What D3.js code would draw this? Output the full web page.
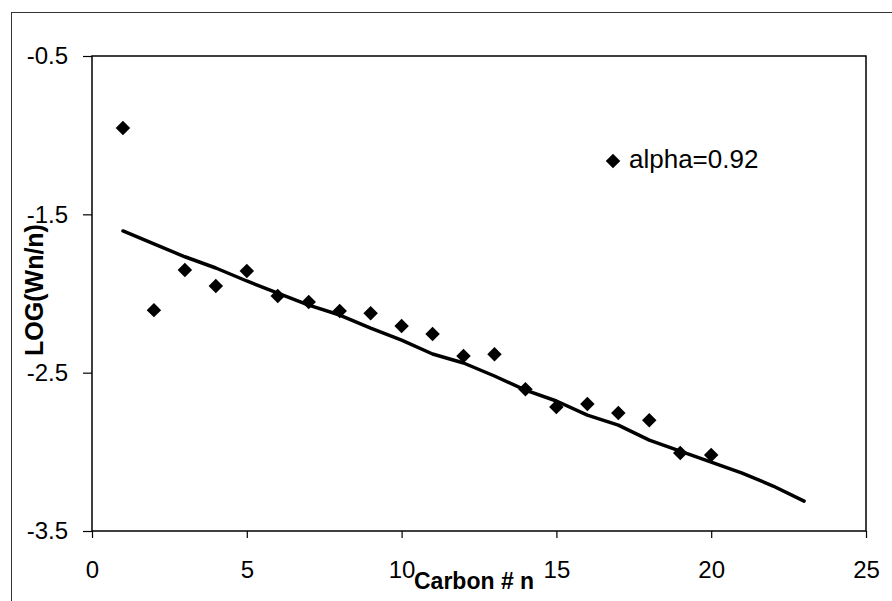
<!DOCTYPE html>
<html>
<head>
<meta charset="utf-8">
<script src="https://cdn.jsdelivr.net/npm/d3@7"></script>
<style>
  body { margin: 0; background: #fff; }
  svg { display: block; }
  .tick text { font-family: "Liberation Sans", Arial, sans-serif; font-size: 24px; fill: #000; }
  .tick line { stroke: #000; stroke-width: 1.2; }
  .ttl { font-family: "Liberation Sans", Arial, sans-serif; font-weight: bold; fill: #000; }
</style>
</head>
<body>
<div id="chart"></div>
<script>
// carbon number n and measured LOG(Wn/n)
carbonN = [1, 2, 3, 4, 5, 6, 7, 8, 9, 10, 11, 12, 13, 14, 15, 16, 17, 18, 19, 20];
logWn = [-0.955, -2.105, -1.852, -1.953, -1.858, -2.016, -2.054, -2.11, -2.124, -2.206,
         -2.256, -2.395, -2.383, -2.604, -2.717, -2.698, -2.755, -2.80, -3.008, -3.02];

// model curve for alpha=0.92
modelN = [1, 2, 3, 4, 5, 6, 7, 8, 9, 10, 11, 12, 13, 14, 15, 16, 17, 18, 19, 20, 21, 22, 23];
modelLog = [-1.605, -1.687, -1.768, -1.839, -1.921, -1.997, -2.073, -2.136, -2.218, -2.294,
            -2.382, -2.439, -2.521, -2.610, -2.679, -2.768, -2.831, -2.926, -2.995, -3.065,
            -3.134, -3.216, -3.311];

xTicks = [0, 5, 10, 15, 20, 25];
yTicks = [-0.5, -1.5, -2.5, -3.5];
legendLabel = "alpha=0.92";

let W = 892, H = 601;
let plot = {left: 92, top: 56, right: 866, bottom: 531};

let svg = d3.select("#chart").append("svg")
    .attr("width", W)
    .attr("height", H);

// outer chart border (right/bottom fall outside the picture)
svg.append("rect")
    .attr("x", 11.5).attr("y", 12.5)
    .attr("width", 1000).attr("height", 1000)
    .attr("fill", "none")
    .attr("stroke", "#333")
    .attr("stroke-width", 1);

let x = d3.scaleLinear().domain([0, 25]).range([plot.left, plot.right]);
let y = d3.scaleLinear().domain([-3.5, -0.5]).range([plot.bottom, plot.top]);

let xAxis = d3.axisBottom(x)
    .tickValues(xTicks)
    .tickSize(7)
    .tickSizeOuter(0)
    .tickPadding(23)
    .tickFormat(d3.format("d"));

let yAxis = d3.axisLeft(y)
    .tickValues(yTicks)
    .tickSize(9)
    .tickSizeOuter(0)
    .tickPadding(15)
    .tickFormat(function(d){ return d.toFixed(1); });

svg.append("g")
    .attr("transform", "translate(0," + plot.bottom + ")")
    .call(xAxis)
    .call(g => g.select(".domain").remove());

svg.append("g")
    .attr("transform", "translate(" + plot.left + ",0)")
    .call(yAxis)
    .call(g => g.select(".domain").remove());

// plot frame
svg.append("rect")
    .attr("x", plot.left).attr("y", plot.top)
    .attr("width", plot.right - plot.left)
    .attr("height", plot.bottom - plot.top)
    .attr("fill", "none")
    .attr("stroke", "#000")
    .attr("stroke-width", 1.5);

// model line
let line = d3.line()
    .x(function(d, i){ return x(modelN[i]); })
    .y(function(d){ return y(d); });

svg.append("path")
    .datum(modelLog)
    .attr("d", line)
    .attr("fill", "none")
    .attr("stroke", "#000")
    .attr("stroke-width", 3.5)
    .attr("stroke-linejoin", "round")
    .attr("stroke-linecap", "round");

// data markers
let diamond = d3.symbol().type(d3.symbolSquare).size(105);

svg.selectAll(".pt")
    .data(carbonN)
    .enter().append("path")
    .attr("class", "pt")
    .attr("d", diamond)
    .attr("transform", function(d, i){
        return "translate(" + x(d) + "," + y(logWn[i]) + ") rotate(45)";
    })
    .attr("fill", "#000");

// legend
svg.append("path")
    .attr("d", diamond)
    .attr("transform", "translate(613,161) rotate(45)")
    .attr("fill", "#000");

svg.append("text")
    .attr("x", 629).attr("y", 168)
    .style("font-family", "'Liberation Sans', Arial, sans-serif")
    .style("font-size", "26px")
    .text(legendLabel);

// axis titles
svg.append("text")
    .attr("class", "ttl")
    .attr("x", 414).attr("y", 589)
    .style("font-size", "23px")
    .text("Carbon # n");

svg.append("text")
    .attr("class", "ttl")
    .attr("transform", "translate(43,290) rotate(-90)")
    .attr("text-anchor", "middle")
    .style("font-size", "25px")
    .text("LOG(Wn/n)");
</script>
</body>
</html>
